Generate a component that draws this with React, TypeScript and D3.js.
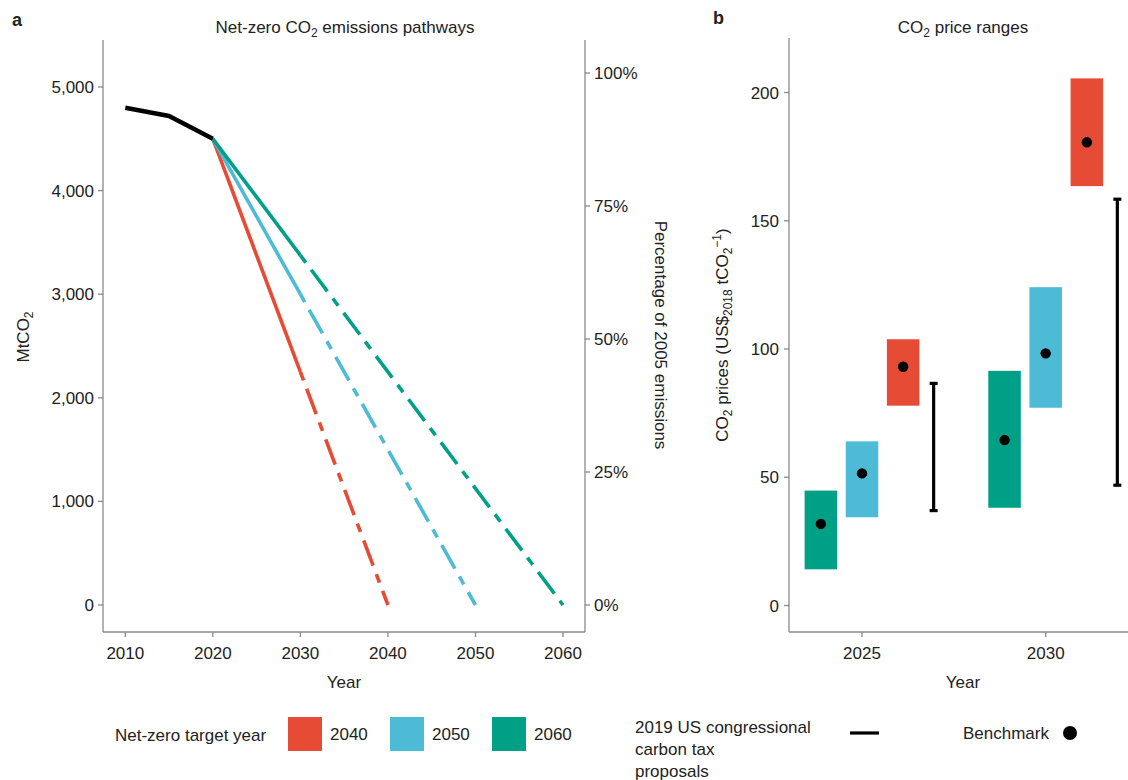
import React from 'react';
import * as d3 from 'd3';

// ---------- DATA ----------
const histYears = [2010, 2015, 2020];
const histEmissions = [4800, 4720, 4500];
const targetYears = [2040, 2050, 2060];
const targetLabels = ['2040', '2050', '2060'];
const midYear = 2030;
const emissionsMid = [2250, 3000, 3375];
const emissionsAtTarget = [0, 0, 0];
const mtTicks = [0, 1000, 2000, 3000, 4000, 5000];
const pctTicks = [0, 25, 50, 75, 100];
const yearTicksA = [2010, 2020, 2030, 2040, 2050, 2060];

const priceYears = [2025, 2030];
// per target year (2040, 2050, 2060), per price year (2025, 2030)
const priceLow = [[77.9, 163.5], [34.4, 77.1], [14.1, 38.1]];
const priceHigh = [[103.8, 205.5], [64.0, 124.1], [44.8, 91.5]];
const benchmark = [[93.1, 180.6], [51.5, 98.3], [31.8, 64.5]];
const taxLow = [37.0, 46.9];
const taxHigh = [86.6, 158.4];
const priceTicks = [0, 50, 100, 150, 200];

// ---------- STYLE ----------
const COLORS = ['#E64B35', '#4DBBD5', '#00A087'];
const FONT = '"Liberation Sans", Arial, Helvetica, sans-serif';
const TEXT = '#222';
const AXIS = '#8a8a8a';
const FS = 17;
const DODGE = [0, -1.12, 1.12]; // offsets not used directly; see order below
const seriesOffset = [1.12, 0, -1.12]; // 2040 right, 2050 centre, 2060 left
const taxOffset = 1.95;
const barWidthYears = 0.885;

export default function App() {
  // Panel a scales
  const xA = d3.scaleLinear().domain([2010, 2060]).range([125.3, 563]);
  const yA = d3.scaleLinear().domain([0, 5000]).range([605, 87]);
  const yPct = d3.scaleLinear().domain([0, 100]).range([605, 73]);
  const aLeft = 103, aRight = 585, aTop = 40, aBottom = 632;

  // Panel b scales
  const xB = d3.scaleLinear().domain([2025, 2030]).range([862, 1045.7]);
  const yB = d3.scaleLinear().domain([0, 200]).range([605.5, 92.5]);
  const bLeft = 789, bRight = 1128, bTop = 38, bBottom = 632;

  const line = d3.line<[number, number]>().x(d => xA(d[0])).y(d => yA(d[1]));
  const histPts: [number, number][] = histYears.map((y, i) => [y, histEmissions[i]]);
  const startYear = histYears[histYears.length - 1];
  const startVal = histEmissions[histEmissions.length - 1];

  const fmt = d3.format(',');
  const bw = xB(2025 + barWidthYears) - xB(2025);

  return (
    <svg width={1128} height={780} style={{ position: 'absolute', left: 0, top: 0, display: 'block', background: '#fff' }}
      fontFamily={FONT} fill={TEXT}>
      {/* Panel labels */}
      <text x={12} y={26} fontSize={18} fontWeight="bold">a</text>
      <text x={713} y={24} fontSize={18} fontWeight="bold">b</text>

      {/* Titles */}
      <text x={345} y={33} fontSize={FS} textAnchor="middle">
        Net-zero CO<tspan fontSize={12} dy={4}>2</tspan><tspan dy={-4}> emissions pathways</tspan>
      </text>
      <text x={963} y={33} fontSize={FS} textAnchor="middle">
        CO<tspan fontSize={12} dy={4}>2</tspan><tspan dy={-4}> price ranges</tspan>
      </text>

      {/* ===== Panel a ===== */}
      <g stroke={AXIS} strokeWidth={1.3} fill="none">
        <line x1={aLeft} x2={aLeft} y1={aTop} y2={aBottom} />
        <line x1={aRight} x2={aRight} y1={aTop} y2={aBottom} />
        <line x1={aLeft} x2={aRight} y1={aBottom} y2={aBottom} />
        {mtTicks.map(t => <line key={'mt' + t} x1={aLeft - 5} x2={aLeft} y1={yA(t)} y2={yA(t)} />)}
        {pctTicks.map(t => <line key={'pt' + t} x1={aRight} x2={aRight + 5} y1={yPct(t)} y2={yPct(t)} />)}
        {yearTicksA.map(t => <line key={'xt' + t} x1={xA(t)} x2={xA(t)} y1={aBottom} y2={aBottom + 5} />)}
      </g>
      {mtTicks.map(t => (
        <text key={'mtl' + t} x={aLeft - 9} y={yA(t) + 6} fontSize={FS} textAnchor="end">{fmt(t)}</text>
      ))}
      {pctTicks.map(t => (
        <text key={'ptl' + t} x={aRight + 9} y={yPct(t) + 6} fontSize={FS}>{t}%</text>
      ))}
      {yearTicksA.map(t => (
        <text key={'xtl' + t} x={xA(t)} y={659} fontSize={FS} textAnchor="middle">{t}</text>
      ))}
      <text x={344} y={688} fontSize={FS} textAnchor="middle">Year</text>
      <text transform="translate(29,337) rotate(-90)" fontSize={FS} textAnchor="middle">
        MtCO<tspan fontSize={12} dy={4}>2</tspan>
      </text>
      <text transform="translate(655,335) rotate(90)" fontSize={FS} textAnchor="middle">
        Percentage of 2005 emissions
      </text>

      {/* pathways */}
      {targetYears.map((ty, i) => (
        <g key={'path' + ty} fill="none" stroke={COLORS[i]} strokeWidth={3.6}>
          <path d={line([[startYear, startVal], [midYear, emissionsMid[i]]]) || ''} />
          <path d={line([[midYear, emissionsMid[i]], [ty, emissionsAtTarget[i]]]) || ''}
            strokeDasharray="9 9 27 9" />
        </g>
      ))}
      <path d={line(histPts) || ''} fill="none" stroke="#000" strokeWidth={4.5} strokeLinejoin="round" />

      {/* ===== Panel b ===== */}
      <g stroke={AXIS} strokeWidth={1.3} fill="none">
        <line x1={bLeft} x2={bLeft} y1={bTop} y2={bBottom} />
        <line x1={bLeft} x2={bRight} y1={bBottom} y2={bBottom} />
        {priceTicks.map(t => <line key={'pb' + t} x1={bLeft - 5} x2={bLeft} y1={yB(t)} y2={yB(t)} />)}
        {priceYears.map(t => <line key={'xb' + t} x1={xB(t)} x2={xB(t)} y1={bBottom} y2={bBottom + 5} />)}
      </g>
      {priceTicks.map(t => (
        <text key={'pbl' + t} x={bLeft - 10} y={yB(t) + 6} fontSize={FS} textAnchor="end">{t}</text>
      ))}
      {priceYears.map(t => (
        <text key={'xbl' + t} x={xB(t)} y={659} fontSize={FS} textAnchor="middle">{t}</text>
      ))}
      <text x={963} y={688} fontSize={FS} textAnchor="middle">Year</text>
      <text transform="translate(728,335) rotate(-90)" fontSize={FS} textAnchor="middle">
        CO<tspan fontSize={12} dy={4}>2</tspan>
        <tspan dy={-4}> prices (US$</tspan><tspan fontSize={12} dy={4}>2018</tspan>
        <tspan dy={-4}> tCO</tspan><tspan fontSize={12} dy={4}>2</tspan>
        <tspan fontSize={12} dy={-11}>−1</tspan><tspan dy={7}>)</tspan>
      </text>

      {targetYears.map((ty, i) => (
        <g key={'bars' + ty}>
          {priceYears.map((py, j) => {
            const cx = xB(py + seriesOffset[i]);
            return (
              <g key={'b' + ty + py}>
                <rect x={cx - bw / 2} width={bw} y={yB(priceHigh[i][j])}
                  height={yB(priceLow[i][j]) - yB(priceHigh[i][j])} fill={COLORS[i]} />
                <circle cx={cx} cy={yB(benchmark[i][j])} r={5.2} fill="#000" />
              </g>
            );
          })}
        </g>
      ))}
      {priceYears.map((py, j) => {
        const cx = xB(py + taxOffset);
        return (
          <g key={'tax' + py} stroke="#000" strokeWidth={3.2}>
            <line x1={cx} x2={cx} y1={yB(taxHigh[j])} y2={yB(taxLow[j])} />
            <line x1={cx - 4} x2={cx + 4} y1={yB(taxHigh[j])} y2={yB(taxHigh[j])} />
            <line x1={cx - 4} x2={cx + 4} y1={yB(taxLow[j])} y2={yB(taxLow[j])} />
          </g>
        );
      })}

      {/* ===== Legends ===== */}
      <text x={115} y={741} fontSize={FS}>Net-zero target year</text>
      {targetLabels.map((lab, i) => (
        <g key={'lg' + lab}>
          <rect x={288 + i * 102} y={717} width={34} height={34} fill={COLORS[i]} />
          <text x={330 + i * 102} y={740} fontSize={FS}>{lab}</text>
        </g>
      ))}
      <text fontSize={FS}>
        <tspan x={635} y={733}>2019 US congressional</tspan>
        <tspan x={635} y={755}>carbon tax</tspan>
        <tspan x={635} y={777}>proposals</tspan>
      </text>
      <line x1={850} x2={879} y1={733} y2={733} stroke="#000" strokeWidth={3.2} />
      <text x={963} y={739} fontSize={FS}>Benchmark</text>
      <circle cx={1070} cy={733} r={7} fill="#000" />
    </svg>
  );
}
